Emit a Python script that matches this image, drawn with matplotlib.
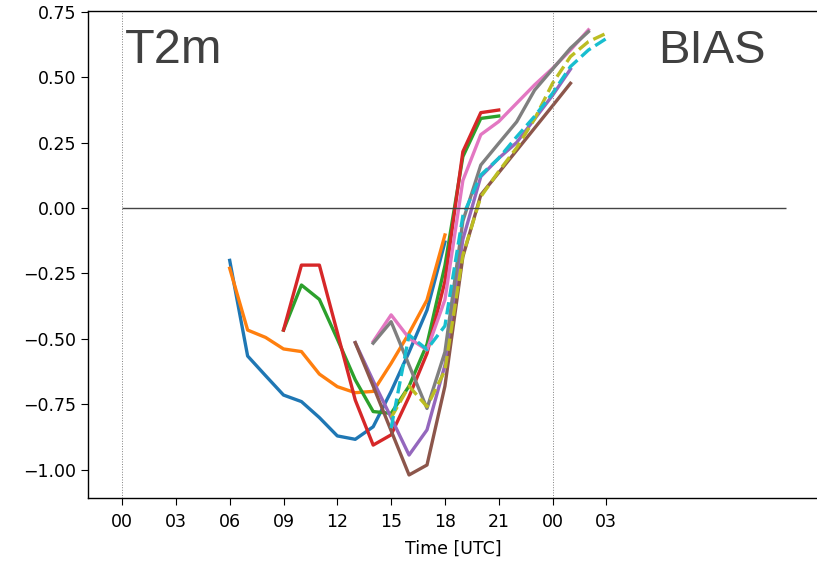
import matplotlib
matplotlib.use("Agg")
import matplotlib.pyplot as plt
from matplotlib.patches import Rectangle

# forecast runs: start hour + hourly T2m bias values (12 h each)
start_c0 = 6
bias_c0 = [-0.20, -0.565, -0.64, -0.714, -0.739, -0.80, -0.87, -0.883, -0.835, -0.70, -0.55, -0.39, -0.13]
start_c1 = 6
bias_c1 = [-0.23, -0.466, -0.494, -0.538, -0.548, -0.634, -0.682, -0.705, -0.70, -0.593, -0.478, -0.351, -0.103]
start_c2 = 9
bias_c2 = [-0.466, -0.294, -0.349, -0.50, -0.656, -0.777, -0.784, -0.68, -0.52, -0.22, 0.196, 0.342, 0.351]
start_c3 = 9
bias_c3 = [-0.466, -0.218, -0.218, -0.475, -0.733, -0.905, -0.866, -0.72, -0.555, -0.28, 0.215, 0.364, 0.374]
start_c4 = 13
bias_c4 = [-0.514, -0.66, -0.80, -0.943, -0.847, -0.60, -0.12, 0.12, 0.19, 0.25, 0.34, 0.43, 0.53]
start_c5 = 13
bias_c5 = [-0.514, -0.68, -0.85, -1.019, -0.981, -0.68, -0.186, 0.05, 0.135, 0.22, 0.305, 0.39, 0.476]
start_c6 = 14
bias_c6 = [-0.51, -0.408, -0.497, -0.542, -0.35, 0.105, 0.28, 0.33, 0.40, 0.47, 0.533, 0.603, 0.68]
start_c7 = 14
bias_c7 = [-0.516, -0.434, -0.60, -0.765, -0.55, -0.05, 0.164, 0.247, 0.329, 0.45, 0.53, 0.61, 0.673]
start_c8 = 15
bias_c8 = [-0.80, -0.68, -0.758, -0.62, -0.18, 0.043, 0.14, 0.23, 0.34, 0.476, 0.578, 0.635, 0.667]
start_c9 = 15
bias_c9 = [-0.84, -0.485, -0.54, -0.45, -0.03, 0.126, 0.19, 0.272, 0.35, 0.438, 0.54, 0.603, 0.647]

tick_hours = [0, 3, 6, 9, 12, 15, 18, 21, 24, 27]
tick_labels = ['00', '03', '06', '09', '12', '15', '18', '21', '00', '03']

runs = [
    (start_c0, bias_c0, 'C0', '-'),
    (start_c1, bias_c1, 'C1', '-'),
    (start_c2, bias_c2, 'C2', '-'),
    (start_c3, bias_c3, 'C3', '-'),
    (start_c4, bias_c4, 'C4', '-'),
    (start_c5, bias_c5, 'C5', '-'),
    (start_c6, bias_c6, 'C6', '-'),
    (start_c7, bias_c7, 'C7', '-'),
    (start_c8, bias_c8, 'C8', '--'),
    (start_c9, bias_c9, 'C9', '--'),
]

fig = plt.figure(figsize=(8.17, 5.61), dpi=100)
ax = fig.add_axes([88/817, 63/561, 730/817, 487/561])

for start, vals, col, ls in runs:
    hrs = [start + i for i in range(len(vals))]
    ax.plot(hrs, vals, color=col, ls=ls, lw=2.4)

ax.hlines(0, 0, 37, color='#444444', lw=1.0)
ax.axvline(0, color='grey', ls=':', lw=0.7)
ax.axvline(24, color='grey', ls=':', lw=0.7)

ax.set_xlim(-1.9, 38.8)
ax.set_ylim(-1.107, 0.752)
ax.set_xticks(tick_hours)
ax.set_xticklabels(tick_labels)
ax.set_yticks([-1.0, -0.75, -0.5, -0.25, 0.0, 0.25, 0.5, 0.75])
ax.tick_params(labelsize=12.5, length=5)
ax.tick_params(axis='x', pad=6)
ax.set_xlabel('Time [UTC]', fontsize=12.5, labelpad=6)
for s in ax.spines.values():
    s.set_linewidth(1.0)

ax.text(0.17, 0.553, 'T2m', fontsize=35, family='Liberation Sans',
        color='#404040', va='baseline', ha='left')
ax.text(35.9, 0.553, 'BIAS', fontsize=34, family='Liberation Sans',
        color='#404040', va='baseline', ha='right')

# strip of the viewer frame at the bottom of the screenshot (behind the label)
fig.add_artist(Rectangle((44/817, -0.01), 1.0, 5/561, transform=fig.transFigure,
                         facecolor='#f4f4f4', edgecolor='#d4d4d4', lw=1.0, zorder=-1))

fig.savefig('out.png', dpi=100)
